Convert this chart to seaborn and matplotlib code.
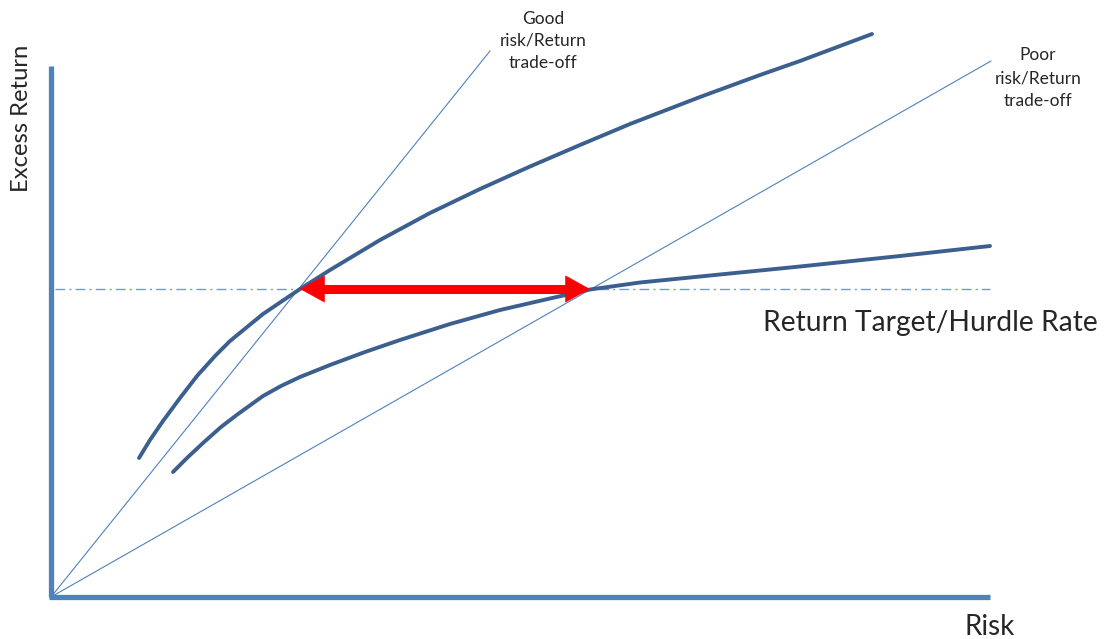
import pandas as pd
import matplotlib.pyplot as plt
import seaborn as sns

# values (origin at the corner of the axes)
good_curve_x = [88, 99, 112, 129, 146, 164, 179, 212, 249, 279, 329, 379,
                429, 479, 529, 579, 649, 709, 749, 821]
good_curve_y = [139, 157, 176, 199, 221, 241, 256, 283, 308, 327, 357, 384,
                408, 430.5, 452, 473, 500, 522, 536, 563]
poor_curve_x = [122, 137, 152, 170, 187, 212, 230, 249, 279, 314, 349, 399, 449,
                499, 539, 589, 649, 749, 849, 939]
poor_curve_y = [125, 140, 154, 170, 183, 201, 211, 220, 232, 245, 257, 273, 287,
                298.5, 307.5, 314.5, 320.5, 330.5, 341, 351]
good_ray_x = [0, 439]
good_ray_y = [0, 546]
poor_ray_x = [0, 940]
poor_ray_y = [0, 536]
hurdle = 308
x_max = 939
y_max = 531
arrow_from = 249
arrow_to = 539

sns.set_style("white")
plt.rcParams['font.family'] = ['Lato', 'DejaVu Sans']

fig = plt.figure(figsize=(11.04, 6.39), dpi=100)
ax = fig.add_axes([0, 0, 1, 1])
ax.set_xlim(-51, 1053)
ax.set_ylim(-42, 597)
ax.axis('off')

# axes drawn as thick lines
ax.plot([0, 0], [0, y_max], color='#4F81BD', lw=3.8, solid_capstyle='butt')
ax.plot([-2, x_max], [0, 0], color='#4F81BD', lw=3.8, solid_capstyle='butt')

# hurdle rate
ax.plot([4, x_max], [hurdle, hurdle], color='#4F81BD', lw=1.0, alpha=0.8,
        dashes=(7, 3, 1.5, 3))

# rays from origin
sns.lineplot(x=good_ray_x, y=good_ray_y, ax=ax, color='#4F81BD', lw=0.8, sort=False)
sns.lineplot(x=poor_ray_x, y=poor_ray_y, ax=ax, color='#4F81BD', lw=0.8, sort=False)

# risk/return curves
good = pd.DataFrame({'risk': good_curve_x, 'ret': good_curve_y})
poor = pd.DataFrame({'risk': poor_curve_x, 'ret': poor_curve_y})
sns.lineplot(data=good, x='risk', y='ret', ax=ax, color='#3B5F8E', lw=2.8, sort=False,
             solid_joinstyle='round')
sns.lineplot(data=poor, x='risk', y='ret', ax=ax, color='#3B5F8E', lw=2.8, sort=False,
             solid_joinstyle='round')

# red double arrow
ax.plot([arrow_from + 20, arrow_to - 20], [hurdle, hurdle], color='red', lw=6.5,
        solid_capstyle='butt')
for tip, tail in [(arrow_from, arrow_from + 30), (arrow_to, arrow_to - 30)]:
    ax.annotate('', xy=(tip, hurdle), xytext=(tail, hurdle),
                arrowprops=dict(arrowstyle='-|>,head_length=1.0,head_width=0.55',
                                mutation_scale=17, color='red', lw=0.5,
                                shrinkA=0, shrinkB=0))

# texts
ax.text(-29, 479, 'Excess Return', rotation=90, ha='center', va='center', fontsize=17.2)
ax.text(879, 274, 'Return Target/Hurdle Rate', ha='center', va='center', fontsize=20.3)
ax.text(939, -30, 'Risk', ha='center', va='center', fontsize=20)
ax.text(492, 556, 'Good\nrisk/Return\ntrade-off', ha='center', va='center',
        fontsize=12.5, linespacing=1.5)
ax.text(987, 519, 'Poor\nrisk/Return\ntrade-off', ha='center', va='center',
        fontsize=12.5, linespacing=1.5)

plt.savefig('out.png', dpi=100)
